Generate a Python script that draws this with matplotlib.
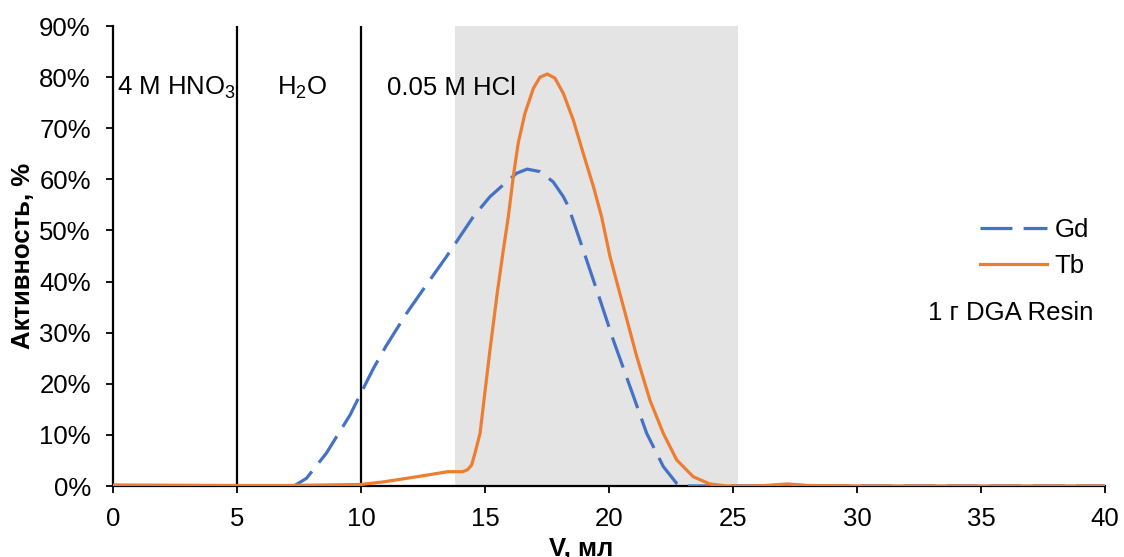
import numpy as np
import matplotlib.pyplot as plt
from matplotlib.ticker import PercentFormatter, MultipleLocator

plt.rcParams['font.family'] = ['Liberation Sans', 'DejaVu Sans']
plt.rcParams['mathtext.fontset'] = 'custom'
plt.rcParams['mathtext.rm'] = 'Liberation Sans'
plt.rcParams['mathtext.it'] = 'Liberation Sans:italic'

# ── Данные ─────────────────────────────────────────────────────────────────
gd_v = [0, 3, 7.3, 7.8, 8.6, 9.56, 10.0, 10.5, 11.0, 11.84, 12.5, 13.45,
        14.53, 15.2, 15.8, 16.28, 16.7, 17.22, 17.75, 18.16, 18.36, 18.96,
        19.64, 20.17, 20.85, 21.52, 22.19, 22.73, 22.9, 26.0, 27.2, 28.5, 40]
gd_act = [0, 0, 0, 1.5, 6.4, 13.9, 18.2, 23.0, 27.3, 33.8, 38.4, 44.9,
          52.7, 56.6, 59.2, 61.2, 62.0, 61.5, 59.5, 56.6, 54.7, 46.2,
          36.4, 28.6, 19.4, 10.3, 3.8, 0.5, 0, 0, 0.2, 0, 0]

tb_v = [0, 5, 7, 10, 10.9, 12.24, 13.5, 14.1, 14.3, 14.46, 14.6, 14.8,
        15.2, 15.5, 15.74, 15.94, 16.14, 16.34, 16.61, 16.95, 17.22, 17.51,
        17.82, 18.16, 18.56, 18.96, 19.37, 19.7, 20.04, 20.58, 21.12, 21.65,
        22.19, 22.73, 23.4, 24.07, 24.74, 26, 27.2, 28, 30, 40]
tb_act = [0.2, 0.1, 0.1, 0.3, 0.8, 1.8, 2.8, 2.8, 3.2, 4.1, 6.5, 10.3,
          26.6, 38.0, 46.2, 52.7, 60.5, 67.1, 72.9, 77.8, 80.0, 80.6,
          79.8, 76.8, 71.6, 65.1, 58.6, 52.7, 44.9, 35.1, 25.3, 16.8,
          10.3, 5.1, 1.8, 0.4, 0, 0, 0.4, 0.1, 0, 0]

gd_act = np.array(gd_act) / 100
tb_act = np.array(tb_act) / 100

eluent_bounds = [5, 10]          # смена элюента
hcl_window = (13.8, 25.2)        # серая область сбора фракции

FS = 18.5

# ── График ────────────────────────────────────────────────────────────────
fig = plt.figure(figsize=(11.24, 5.57), dpi=100)
ax = fig.add_axes([113 / 1124, 71 / 557, 992 / 1124, 460 / 557])

ax.axvspan(*hcl_window, color="#e4e4e4", lw=0, zorder=0)
for xb in eluent_bounds:
    ax.axvline(xb, color="black", lw=1.6, zorder=1)

ax.plot(gd_v, gd_act, color="#4472C4", lw=2.3, dashes=(10, 3.5), label="Gd", zorder=3)
ax.plot(tb_v, tb_act, color="#ED7D31", lw=2.3, label="Tb", zorder=4)

ax.set_xlim(0, 40)
ax.set_ylim(0, 0.9)
ax.xaxis.set_major_locator(MultipleLocator(5))
ax.yaxis.set_major_locator(MultipleLocator(0.1))
ax.yaxis.set_major_formatter(PercentFormatter(1.0, decimals=0))
ax.tick_params(labelsize=FS, length=5, width=1.3, color="black", direction="out")
ax.tick_params(axis="x", pad=10)
ax.tick_params(axis="y", pad=11)

for s in ("top", "right"):
    ax.spines[s].set_visible(False)
for s in ("left", "bottom"):
    ax.spines[s].set_linewidth(1.6)
    ax.spines[s].set_color("black")
    ax.spines[s].set_zorder(2)

ax.text(0.15, 0.765, r"4 M HNO$_3$", fontsize=FS, va="baseline")
ax.text(6.6, 0.765, r"H$_2$O", fontsize=FS, va="baseline")
ax.text(11.05, 0.765, "0.05 M HCl", fontsize=FS, va="baseline")

ax.legend(loc="center left", bbox_to_anchor=(980 / 1124, (557 - 248) / 557),
          bbox_transform=fig.transFigure, frameon=False, fontsize=FS,
          handlelength=2.6, handletextpad=0.3, labelspacing=0.45,
          borderpad=0, borderaxespad=0)
fig.text(928 / 1124, (557 - 320) / 557, "1 г DGA Resin", fontsize=FS, va="baseline")

fig.text(23 / 1124, (557 - 256) / 557, "Активность, %", fontsize=FS, fontweight="bold",
         rotation=90, ha="center", va="center")
fig.text(581 / 1124, (557 - 537) / 557, "V, мл", fontsize=FS, fontweight="bold",
         ha="center", va="top")

fig.savefig("out.png", dpi=100)
